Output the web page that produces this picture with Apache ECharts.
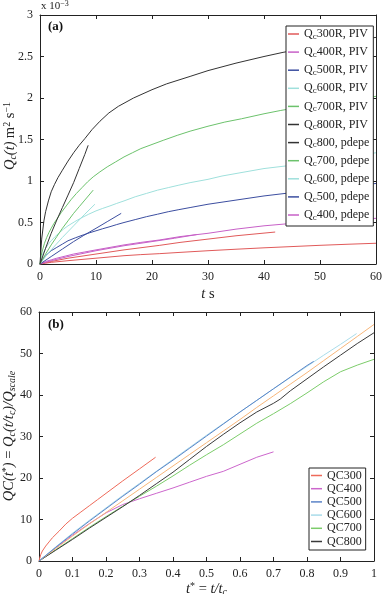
<!DOCTYPE html>
<html>
<head>
<meta charset="utf-8">
<script src="https://cdn.jsdelivr.net/npm/echarts/dist/echarts.min.js"></script>
<style>
html, body { margin: 0; padding: 0; background: #fff; }
#main { width: 383px; height: 594px; }
</style>
</head>
<body>
<div id="main"></div>
<script>
// panel (a): Q_c(t) in units of 1e-3 m^2/s, t in s
var q300piv = [[0,0],[2,0.03],[5,0.07],[10,0.12],[15,0.17],[21.4,0.225],[25,0.26],[30,0.3],[35,0.34],[42,0.385]];
var q400piv = [[0,0],[2,0.04],[5,0.09],[10,0.16],[15,0.22],[20,0.27],[24,0.31],[28,0.355]];
var q500piv = [[0,0],[2,0.09],[4,0.18],[6,0.27],[7.7,0.34],[10,0.43],[12,0.51],[14.5,0.61]];
var q600piv = [[0,0],[1,0.09],[2,0.17],[4,0.32],[6,0.46],[8,0.6],[9.8,0.72]];
var q700piv = [[0,0],[1,0.12],[2,0.23],[3,0.33],[4,0.43],[5,0.52],[6,0.61],[7,0.69],[8,0.77],[9.5,0.89]];
var q800piv = [[0,0],[1,0.19],[2,0.37],[3,0.53],[4,0.68],[5,0.83],[6,0.98],[7,1.15],[8,1.32],[8.6,1.43]];
var q800pdepe = [[0,0],[0.3,0.3],[0.7,0.52],[1,0.63],[1.5,0.76],[2,0.87],[2.6,0.96],[3.2,1.04],[4,1.13],[5,1.24],[6,1.34],[7,1.43],[8,1.51],[9.3,1.62],[10.7,1.72],[12.3,1.82],[14,1.9],[16.7,2.0],[20,2.1],[22.6,2.17],[26.8,2.26],[30,2.33],[35,2.42],[40,2.5],[43.4,2.55],[50,2.63],[55,2.69],[60,2.73]];
var q700pdepe = [[0,0],[0.2,0.1],[0.5,0.18],[0.8,0.25],[1.2,0.32],[1.6,0.38],[2,0.43],[2.5,0.49],[3,0.54],[3.8,0.62],[4.8,0.71],[5.6,0.78],[6.5,0.85],[7.5,0.92],[8.5,0.99],[9.5,1.05],[10.7,1.11],[12,1.17],[13.5,1.23],[15,1.29],[16.5,1.34],[18,1.39],[20,1.44],[22,1.49],[24.5,1.55],[26.8,1.6],[30,1.66],[33,1.71],[36,1.75],[40,1.81],[43,1.85],[46.4,1.89],[50,1.93],[55,1.97],[60,2.02]];
var q600pdepe = [[0,0],[0.25,0.08],[0.5,0.12],[1,0.19],[1.5,0.24],[2,0.28],[2.7,0.33],[3.5,0.38],[4.2,0.42],[5,0.46],[6.2,0.51],[7.5,0.56],[8.7,0.6],[10,0.64],[11.2,0.67],[12.5,0.7],[13.7,0.73],[15,0.76],[17,0.81],[19,0.85],[21,0.89],[22.9,0.92],[24.8,0.95],[26.8,0.98],[30,1.02],[32.5,1.06],[35,1.09],[37.5,1.12],[40,1.15],[42.5,1.17],[45,1.19],[47.5,1.22],[50.5,1.24],[55,1.29],[60,1.34]];
var q500pdepe = [[0,0],[0.25,0.04],[0.5,0.06],[1,0.1],[1.5,0.13],[2,0.16],[3,0.2],[4,0.24],[5,0.28],[6.3,0.315],[7.7,0.35],[8.8,0.375],[10,0.4],[11.2,0.425],[12.5,0.45],[13.7,0.475],[15,0.5],[17,0.535],[19,0.57],[21,0.6],[22.9,0.63],[24.8,0.655],[26.8,0.68],[30,0.72],[32.5,0.745],[35,0.77],[37.5,0.795],[40,0.82],[42.5,0.84],[45,0.86],[47.5,0.885],[50.5,0.91],[55,0.94],[60,0.97]];
var q400pdepe = [[0,0],[1,0.03],[2,0.05],[3,0.07],[4.5,0.095],[6,0.12],[8,0.145],[10,0.17],[12.5,0.2],[15,0.23],[18,0.26],[21.4,0.29],[25,0.33],[30,0.37],[35,0.42],[40,0.46],[43.4,0.48],[50,0.52],[55,0.54],[60,0.55]];
var q300pdepe = [[0,0],[1,0.01],[2,0.02],[5,0.04],[7.5,0.055],[10,0.07],[12.5,0.085],[15,0.1],[18,0.113],[21.4,0.125],[25,0.14],[30,0.16],[35,0.178],[40,0.195],[45,0.21],[50,0.225],[55,0.238],[60,0.25]];

// panel (b): scaled curves QC(t*)
var qc300 = [[0,0],[0.005,1.5],[0.01,2.4],[0.02,3.6],[0.03,4.6],[0.04,5.6],[0.06,7.2],[0.08,8.9],[0.1,10.3],[0.125,11.8],[0.15,13.3],[0.175,14.8],[0.2,16.3],[0.25,19.3],[0.3,22.2],[0.348,25]];
var qc400 = [[0,0],[0.05,3.2],[0.1,6.2],[0.15,9],[0.2,11.6],[0.25,13.6],[0.3,15],[0.35,16.3],[0.4,17.6],[0.45,19],[0.5,20.4],[0.55,21.6],[0.6,23.3],[0.65,25],[0.7,26.3]];
var qc500 = [[0,0],[0.05,3.3],[0.1,6.5],[0.15,9.6],[0.2,12.6],[0.25,15.6],[0.3,18.5],[0.35,21.5],[0.4,24.3],[0.45,27.2],[0.5,30.1],[0.55,33],[0.6,35.9],[0.65,38.7],[0.7,41.5],[0.75,44.3],[0.8,47.1],[0.82,48.1]];
var qc600 = [[0,0],[0.05,3.4],[0.1,6.7],[0.15,9.8],[0.2,12.8],[0.25,15.8],[0.3,18.7],[0.35,21.6],[0.4,24.5],[0.45,27.4],[0.5,30.3],[0.55,33.1],[0.6,35.9],[0.65,38.7],[0.7,41.5],[0.75,44.2],[0.8,46.9],[0.85,49.6],[0.9,52.2],[0.948,54.8]];
var qc700 = [[0,0],[0.05,2.7],[0.1,5.4],[0.15,8.1],[0.2,10.7],[0.25,13.2],[0.3,15.6],[0.35,18],[0.4,20.5],[0.45,23.1],[0.5,25.6],[0.55,28],[0.6,30.6],[0.65,33.2],[0.7,35.5],[0.75,37.9],[0.8,40.5],[0.85,43.2],[0.9,45.6],[0.95,47.2],[1,48.6]];
var qc800 = [[0,0],[0.05,2.6],[0.1,5.2],[0.15,7.9],[0.2,10.5],[0.25,13.1],[0.3,15.8],[0.35,18.6],[0.4,21.4],[0.45,24.5],[0.5,27.6],[0.55,30.5],[0.6,33.3],[0.65,35.9],[0.7,38],[0.72,39],[0.75,41],[0.8,43.9],[0.85,46.8],[0.9,49.6],[0.95,52.4],[1,55]];
var qcOrange = [[0,0],[0.05,3],[0.1,6],[0.15,8.9],[0.2,11.7],[0.25,14.5],[0.3,17.3],[0.35,20.1],[0.4,22.9],[0.45,25.7],[0.5,28.5],[0.55,31.3],[0.6,34.1],[0.65,37],[0.7,39.8],[0.75,42.6],[0.8,45.4],[0.85,48.3],[0.9,51.2],[0.95,54.1],[1,57]];

var legendA = ["Q_c 300R, PIV","Q_c 400R, PIV","Q_c 500R, PIV","Q_c 600R, PIV","Q_c 700R, PIV","Q_c 800R, PIV","Q_c 800, pdepe","Q_c 700, pdepe","Q_c 600, pdepe","Q_c 500, pdepe","Q_c 400, pdepe"];
var legendB = ["QC300","QC400","QC500","QC600","QC700","QC800"];

var FONT = "Liberation Serif";
var chart = echarts.init(document.getElementById("main"));

// rich styles for the axis titles (math text)
var rich = {
    i: { fontFamily: FONT, fontStyle: "italic", fontSize: 14.5, lineHeight: 16, fill: "#222", color: "#222" },
    r: { fontFamily: FONT, fontSize: 14.5, lineHeight: 16, fill: "#222", color: "#222" },
    s: { fontFamily: FONT, fontStyle: "italic", fontSize: 10, lineHeight: 7, verticalAlign: "bottom", fill: "#222", color: "#222" },
    p: { fontFamily: FONT, fontSize: 10, lineHeight: 7, verticalAlign: "top", fill: "#222", color: "#222" }
};

function axis(grid, pos, min, max, step, labels, name) {
    var ax = {
        type: "value", gridIndex: grid, position: pos,
        min: min, max: max, interval: step,
        axisLine: { show: true, onZero: false, lineStyle: { color: "#222", width: 1 } },
        axisTick: { show: true, inside: true, length: 4, lineStyle: { color: "#222" } },
        axisLabel: { show: labels, margin: 7, color: "#222", fontFamily: FONT, fontSize: 12 },
        splitLine: { show: false }
    };
    if (name) {
        ax.name = name.text;
        ax.nameLocation = "middle";
        ax.nameGap = name.gap;
        ax.nameTextStyle = { color: "#222", fontFamily: FONT, fontSize: 14.5, rich: rich };
    }
    return ax;
}

function line(name, data, color, idx) {
    return {
        name: name, type: "line", xAxisIndex: idx, yAxisIndex: idx,
        data: data, symbol: "none", smooth: false,
        lineStyle: { color: color, width: 1 }, itemStyle: { color: color },
        emphasis: { disabled: true }
    };
}

// vertical axis title, reads bottom to top
function vtitle(x, y, text) {
    return { type: "text", x: x, y: y, rotation: Math.PI / 2,
        style: { text: text, align: "center", verticalAlign: "middle", rich: rich } };
}

var option = {
    animation: false,
    backgroundColor: "#fff",
    grid: [
        { left: 40, top: 15, width: 336, height: 249, containLabel: false, outerBoundsMode: "none" },
        { left: 39, top: 312, width: 335, height: 249, containLabel: false, outerBoundsMode: "none" }
    ],
    xAxis: [
        axis(0, "bottom", 0, 60, 10, true, { text: "{i|t} {r|s}", gap: 22 }),
        axis(0, "top", 0, 60, 10, false),
        axis(1, "bottom", 0, 1, 0.1, true, { text: "{i|t}{p|*}{r| = }{i|t/t}{s|c}", gap: 19 }),
        axis(1, "top", 0, 1, 0.1, false)
    ],
    yAxis: [
        axis(0, "left", 0, 3, 0.5, true),
        axis(0, "right", 0, 3, 0.5, false),
        axis(1, "left", 0, 60, 10, true),
        axis(1, "right", 0, 60, 10, false)
    ],
    legend: [
        {
            data: legendA, orient: "vertical", left: 286, top: 26,
            padding: [2, 4, 4, 2], itemGap: 5.1, itemWidth: 11, itemHeight: 1.5, icon: "rect",
            backgroundColor: "#fff", borderColor: "#222", borderWidth: 1, borderRadius: 0,
            selectedMode: false,
            formatter: function (n) { return "{r|Q}{s|c}{r|" + n.replace("Q_c ", "") + "}"; },
            textStyle: { fontFamily: FONT, fontSize: 12, color: "#222", rich: {
                r: { fontFamily: FONT, fontSize: 12, lineHeight: 14, color: "#222" },
                s: { fontFamily: FONT, fontSize: 9, lineHeight: 5, verticalAlign: "bottom", color: "#222" }
            } }
        },
        {
            data: legendB, orient: "vertical", left: 309, top: 468,
            padding: [1, 4, 2, 2], itemGap: 0.2, itemWidth: 11, itemHeight: 1.5, icon: "rect",
            backgroundColor: "#fff", borderColor: "#222", borderWidth: 1, borderRadius: 0,
            selectedMode: false,
            textStyle: { fontFamily: FONT, fontSize: 12, lineHeight: 13, color: "#222" }
        }
    ],
    graphic: [
        { type: "text", left: 48, top: 20, style: { text: "(a)", fontFamily: FONT, fontWeight: "bold", fontSize: 13, fill: "#111" } },
        { type: "text", left: 48, top: 318, style: { text: "(b)", fontFamily: FONT, fontWeight: "bold", fontSize: 13, fill: "#111" } },
        { type: "text", left: 41, top: 0, style: { text: "{n|x 10}{e|\u22123}", rich: {
            n: { fontFamily: FONT, fontSize: 11, lineHeight: 13, fill: "#222" },
            e: { fontFamily: FONT, fontSize: 8, lineHeight: 6, verticalAlign: "top", fill: "#222" }
        } } },
        vtitle(10, 136, "{i|Q}{s|c}{i|(t)} {r|m}{p|2}{r| s}{p|\u22121}"),
        vtitle(9, 436, "{i|QC(t}{p|*}{i|)}{r| = }{i|Q}{s|c}{i|(t/t}{s|c}{i|)/Q}{s|scale}")
    ],
    series: [
        line("Q_c 300, pdepe", q300pdepe, "#e05a5a", 0),
        line("Q_c 400, pdepe", q400pdepe, "#c760c7", 0),
        line("Q_c 500, pdepe", q500pdepe, "#3c4ea0", 0),
        line("Q_c 600, pdepe", q600pdepe, "#9fe0dc", 0),
        line("Q_c 700, pdepe", q700pdepe, "#6cc26c", 0),
        line("Q_c 800, pdepe", q800pdepe, "#333333", 0),
        line("Q_c 300R, PIV", q300piv, "#e05a5a", 0),
        line("Q_c 400R, PIV", q400piv, "#c760c7", 0),
        line("Q_c 500R, PIV", q500piv, "#3c4ea0", 0),
        line("Q_c 600R, PIV", q600piv, "#9fe0dc", 0),
        line("Q_c 700R, PIV", q700piv, "#6cc26c", 0),
        line("Q_c 800R, PIV", q800piv, "#333333", 0),
        line("QC300", qc300, "#ee6a5a", 2),
        line("QC400", qc400, "#cc66cc", 2),
        line("QC700", qc700, "#7ccc6a", 2),
        line("QC800", qc800, "#3a3a3a", 2),
        line("QC ref", qcOrange, "#f7b67a", 2),
        line("QC600", qc600, "#a9dcea", 2),
        line("QC500", qc500, "#5b84c8", 2)
    ]
};
chart.setOption(option);
</script>
</body>
</html>
